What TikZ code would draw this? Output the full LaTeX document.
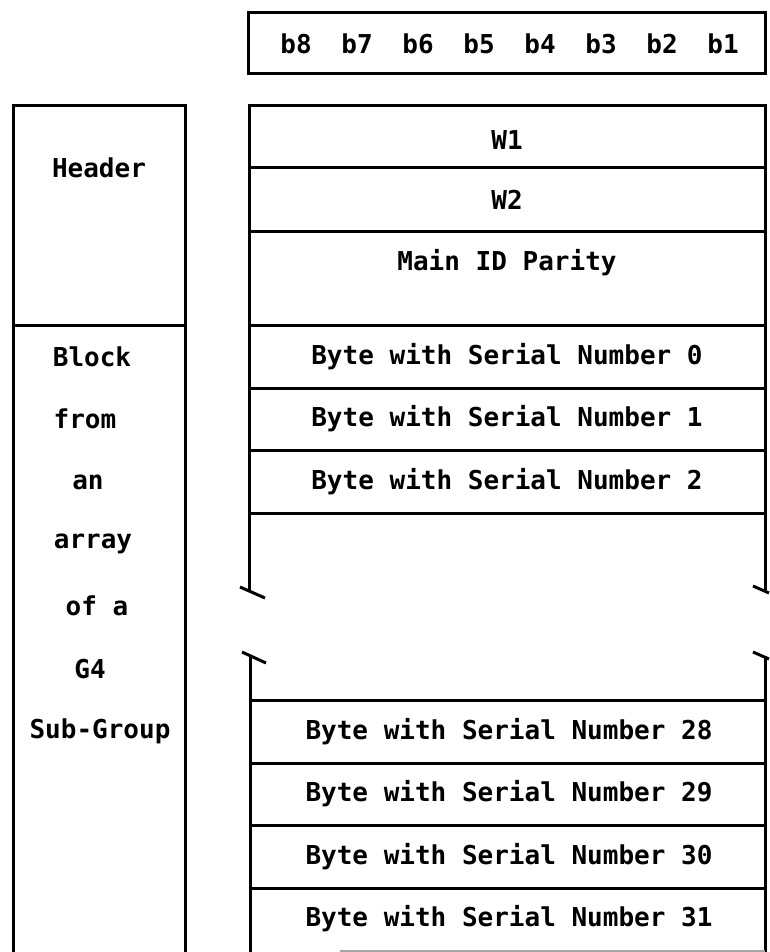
\documentclass[tikz,border=0pt]{standalone}
\usepackage{fontspec}
\setmonofont{DejaVu Sans Mono}
\begin{document}
\begin{tikzpicture}[x=1pt,y=-1pt,
  ln/.style={line width=3pt},
  txt/.style={font=\fontsize{26}{29}\selectfont\ttfamily\bfseries, inner sep=0pt, anchor=center}]
\useasboundingbox (0,0) rectangle (769,952);
% bit box
\draw[ln] (248,13) rectangle (765,74);
\foreach \b [count=\i from 0] in {8,7,6,5,4,3,2,1}
  \node[txt] (bit\b) at (296+61*\i,44) {b\b};
% left column
\draw[ln] (13,952) -- (13,106) -- (185,106) -- (185,952);
\draw[ln] (13,325) -- (185,325);
\node[txt] (hdr) at (99,168) {Header};
\node[txt] (l1) at (92,357) {Block};
\node[txt] (l2) at (85,419) {from};
\node[txt] (l3) at (88,482) {an};
\node[txt] (l4) at (93,544) {array};
\node[txt] (l5) at (97,606) {of a};
\node[txt] (l6) at (90,669) {G4};
\node[txt] (l7) at (100,731) {Sub-Group};
% right column, upper part
\draw[ln] (249,591) -- (249,106) -- (765,106) -- (765,590);
\foreach \y in {168,231,325,388,450,513}
  \draw[ln] (249,\y) -- (765,\y);
\draw[ln] (240,587) -- (265,598);
\draw[ln] (753,586) -- (769,593);
% right column, lower part
\draw[ln] (242,652) -- (266,663);
\draw[ln] (753,652) -- (769,659);
\draw[ln] (250,657) -- (250,952);
\draw[ln] (765,656) -- (765,952);
\foreach \y in {700,763,825,888}
  \draw[ln] (250,\y) -- (765,\y);
\draw[line width=1.5pt, black!35] (340,951) -- (765,951);
\node[txt] (w1) at (507,140) {W1};
\node[txt] (w2) at (507,200) {W2};
\node[txt] (mid) at (507,263) {Main ID Parity};
\node[txt] (s0) at (507,357) {Byte with Serial Number 0};
\node[txt] (s1) at (507,419) {Byte with Serial Number 1};
\node[txt] (s2) at (507,482) {Byte with Serial Number 2};
\node[txt] (s28) at (509,732) {Byte with Serial Number 28};
\node[txt] (s29) at (509,794) {Byte with Serial Number 29};
\node[txt] (s30) at (509,857) {Byte with Serial Number 30};
\node[txt] (s31) at (509,919) {Byte with Serial Number 31};
\end{tikzpicture}
\end{document}
